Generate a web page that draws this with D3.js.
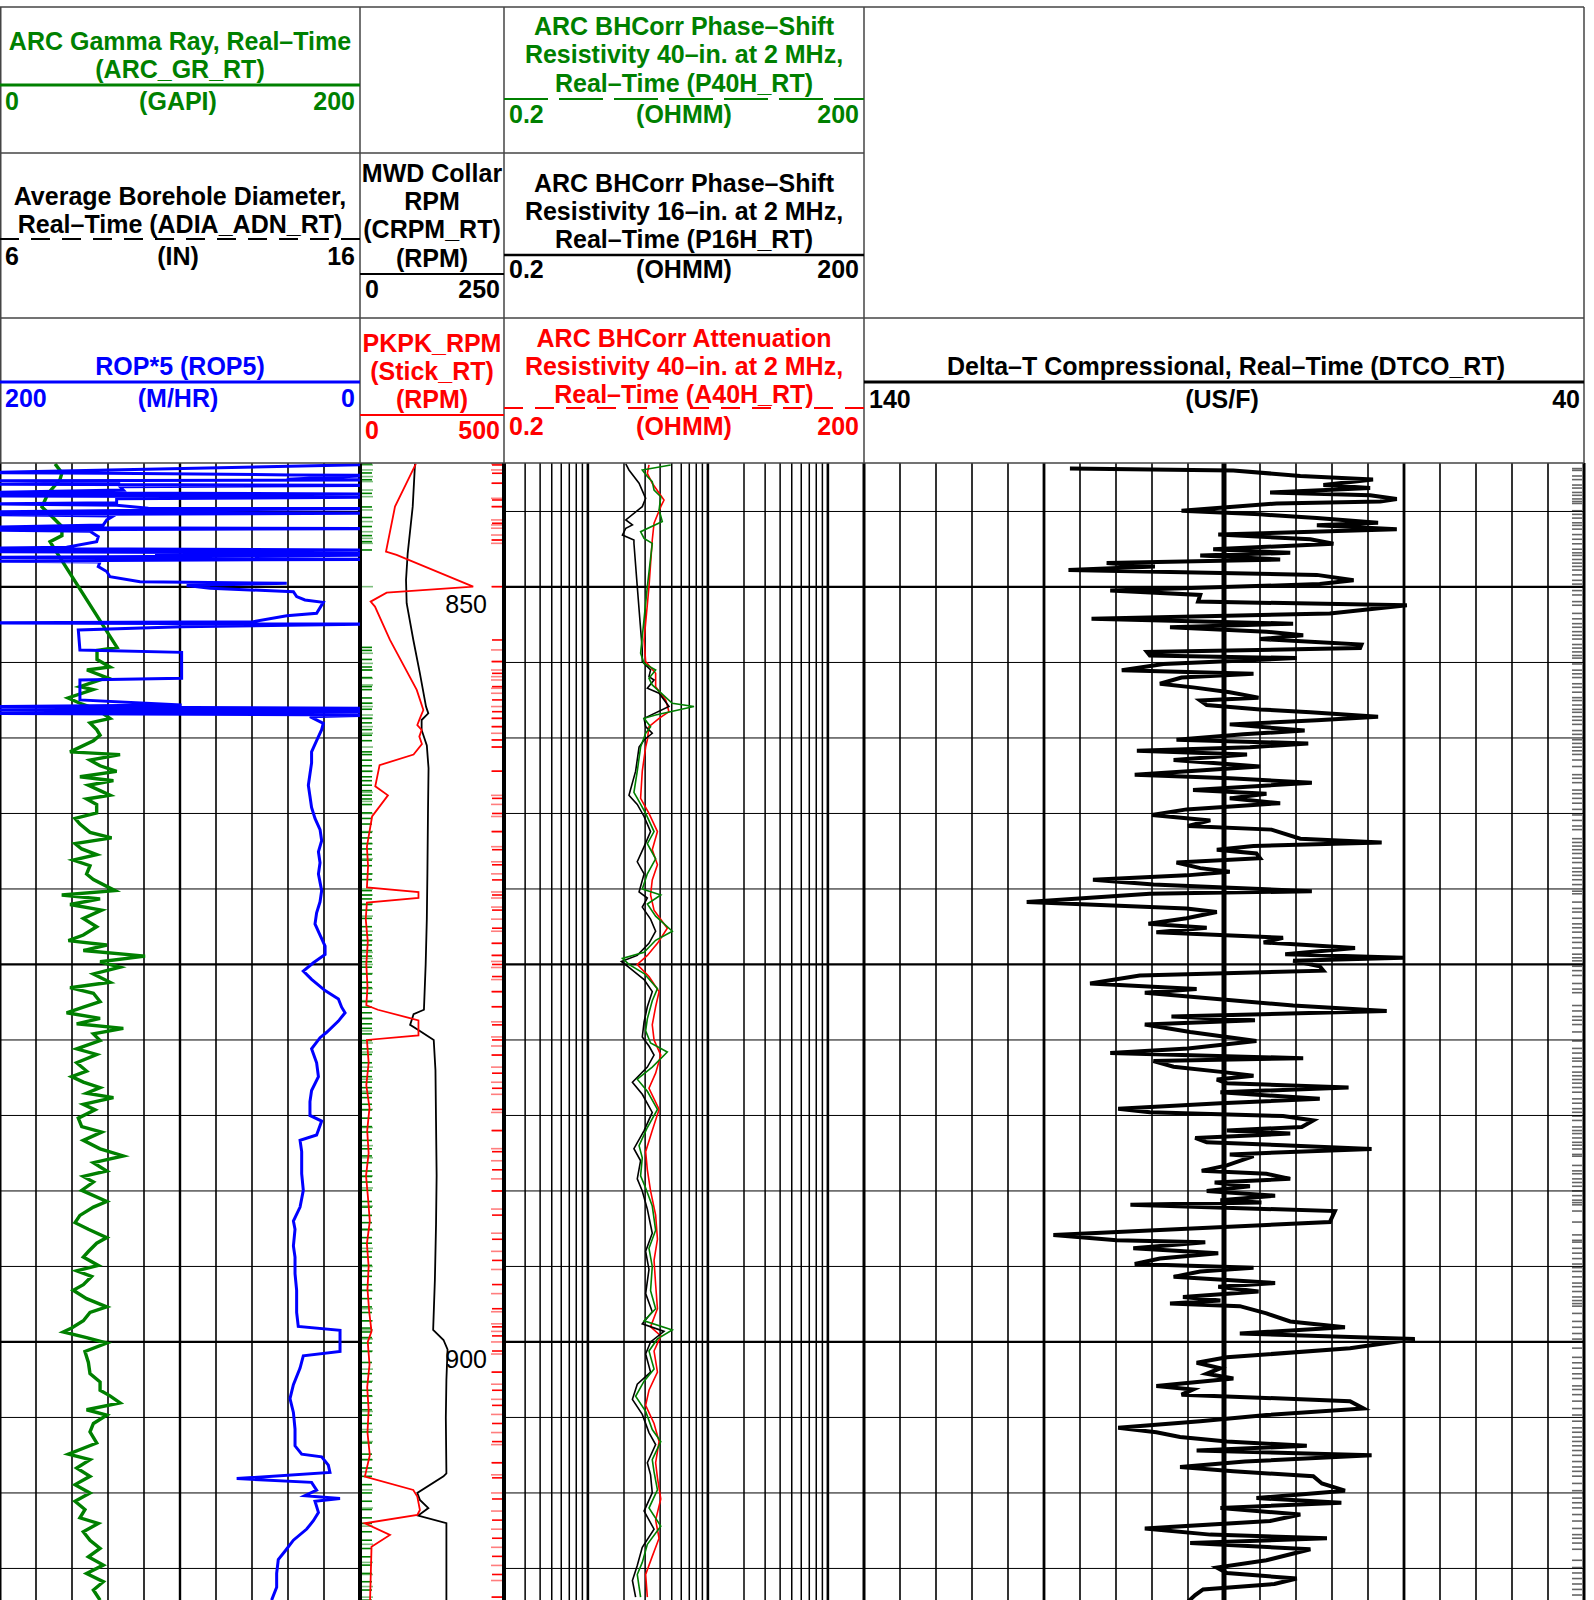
<!DOCTYPE html>
<html>
<head>
<meta charset="utf-8">
<script src="https://cdn.jsdelivr.net/npm/d3@7"></script>
<style>
  body { margin: 0; background: #fff; }
  svg text { font-family: "Liberation Sans", Arial, sans-serif; }
</style>
</head>
<body>
<svg id="log" width="1594" height="1600"></svg>
<script>
'use strict';

// ---- data: [depth, value] pairs ----
var GR = [[841.85,30.6],[842.45,34.4],[842.9,33.3],[843.8,26.7],[844.7,23.3],[845.4,29.4],[846.0,34.4],[846.6,34.4],[847.0,27.8],[847.55,30.6],
  [854.0,65.0],[854.2,53.9],[854.8,53.9],[855.3,61.1],[855.5,48.3],[856.0,59.4],[856.6,44.4],[856.8,51.7],[857.35,37.8],[857.7,44.4],[858.1,53.9],[858.7,61.1],[859.0,50.0],
  [859.45,53.7],[859.82,55.6],[860.18,51.9],[860.92,38.9],[861.10,66.7],[861.47,50.0],[861.84,55.6],[862.21,64.8],[862.57,44.4],[862.83,63.0],[863.13,49.1],[863.49,55.6],[863.79,61.1],[864.04,48.1],[864.41,53.7],[864.96,53.7],
  [865.33,41.7],[865.70,44.4],[866.25,50.0],[866.62,62.0],[866.99,41.7],[867.35,45.4],[867.72,53.7],[868.09,40.7],[868.46,50.0],[869.01,48.1],[869.38,51.9],[870.11,63.9],[870.40,34.3],[870.66,55.6],[871.03,38.9],[871.40,56.5],
  [871.95,46.3],[872.50,53.7],[873.05,46.3],[873.42,38.0],[873.71,59.3],[874.08,46.3],[874.45,80.6],[874.82,55.6],[875.18,66.7],[875.63,51.9],[876.18,61.1],[876.54,38.9],[876.91,51.9],[877.46,55.6],[877.83,46.3],[878.20,37.0],
  [878.57,55.6],[878.93,42.6],[879.23,68.5],[879.60,51.9],[880.04,55.6],[880.59,42.6],[880.96,53.7],[881.51,42.6],[882.06,48.1],[882.43,39.8],[882.79,46.3],[883.16,55.6],[883.53,48.1],[883.82,63.0],[884.26,46.3],[884.63,52.8],
  [885.18,43.5],[885.74,45.4],[886.10,56.5],[886.65,46.3],[887.21,55.6],[887.68,68.5],[888.13,51.9],[888.68,59.3],[889.04,46.3],[889.41,51.9],[889.96,45.4],[890.70,59.3],[891.07,51.9],[891.62,44.4],[892.10,41.7],[892.54,49.1],
  [893.09,59.3],[893.46,53.7],[894.01,49.1],[894.38,46.3],[894.93,54.6],[895.29,42.6],[895.66,50.9],[896.21,46.3],[896.58,40.7],[897.13,48.1],[897.68,59.3],[898.05,50.0],[898.60,46.3],[899.08,39.8],[899.34,35.2],[899.71,48.1],
  [900.07,59.3],[900.63,47.2],[901.36,49.1],[902.10,50.0],[902.65,55.6],[903.20,55.6],[903.57,61.1],[904.04,66.7],[904.49,48.1],[904.85,59.3],[905.40,51.9],[905.96,50.0],[906.69,53.7],[907.43,38.0],[907.79,50.0],[908.35,42.6],
  [908.90,50.0],[909.45,41.7],[910.00,50.0],[910.55,41.7],[911.10,47.2],[911.65,44.4],[912.02,54.6],[912.57,46.3],[913.13,50.0],[913.68,55.6],[914.23,49.1],[914.78,57.4],[915.33,48.1],[915.88,57.4],[916.43,51.9],[917.10,55.6]];

var ROP5 = [[841.88,-10],[842.43,210],[842.47,140.7],[842.58,38],[842.60,-10],[842.87,40.7],[842.91,-10],[842.96,210],[843.05,138.9],[843.13,133.3],[843.20,210],[843.27,-10],[843.36,133.3],[843.58,131.5],
  [843.75,210],[843.84,-10],[843.97,210],[844.06,-10],[844.15,135.2],[844.42,135.2],[844.50,210],[844.59,135.2],[844.79,117.6],[844.81,-10],[844.94,131.5],[845.03,210],[845.12,-10],[845.21,210],[845.30,137],
  [845.56,140.7],[845.89,142.6],[846.05,210],[846.14,-10],[846.23,210],[846.31,150],[846.67,145.4],[847.00,146.3],[847.37,163],[847.44,210],[847.55,-10],[847.66,210],[847.77,-10],[847.84,113.9],[847.90,-10],
  [848.04,210],[848.17,-10],[848.28,210],[848.34,144.4],[848.65,145.4],[848.98,140.7],[849.32,138.9],[849.65,122.2],[849.76,40.7],[849.91,96.3],[850.09,83.3],[850.31,37],[850.64,35.2],[850.86,30.6],[851.02,20.4],
  [851.74,24.1],[851.90,40.7],[852.30,59.3],[852.38,210],[852.45,-10],[852.63,99.1],[852.85,156.5],[854.17,155.6],[854.33,99.1],[856.05,99.1],[856.16,155.6],[857.48,155.6],[857.81,99.1],[857.92,210],[858.04,-10],
  [858.15,210],[858.26,-10],[858.37,210],[858.48,-10],[858.59,27.8],[859.03,20.4],
  [859.45,21.3],[860.18,24.1],[860.92,26.9],[861.65,26.9],[862.39,27.8],[863.13,28.7],[863.86,27.8],[864.60,26.9],[865.33,25.0],[866.07,22.2],[866.80,21.3],[867.54,23.1],[868.27,22.2],[869.01,23.1],[870.11,21.3],
  [870.85,22.2],[871.58,24.1],[872.32,25.0],[873.05,22.2],[873.79,19.4],[874.34,19.4],[874.89,25.9],[875.44,31.5],[875.99,26.9],[876.73,19.4],[877.28,12.0],[877.83,10.2],[878.20,8.3],[878.75,12.0],[879.49,18.5],
  [879.85,22.2],[880.59,26.9],[881.51,24.1],[882.43,23.1],[883.35,26.9],[884.08,27.8],[885.00,27.8],[885.37,21.3],[886.29,24.1],[886.65,33.3],[887.39,32.4],[888.86,32.4],[889.96,31.5],[891.07,33.3],[891.99,37.0],
  [892.54,36.1],[893.64,37.0],[894.38,36.1],[895.48,36.1],[896.58,35.2],[898.05,35.2],[898.97,34.3],[899.23,11.1],[900.63,11.1],[900.92,31.5],[901.73,33.3],[902.83,37.0],[903.75,38.9],[904.67,37.0],[905.77,36.1],
  [906.88,36.1],[907.43,32.4],[907.61,21.3],[908.16,17.6],[908.64,16.7],[909.05,68.5],[909.3,26.9],[909.82,24.1],[910.18,30.6],[910.37,11.1],[910.55,25.0],[911.29,23.1],[911.84,25.9],[912.39,29.6],[913.13,37.0],
  [913.86,41.7],[914.41,45.4],[915.33,46.3],[916.25,46.3],[917.10,49.1]];

var CRPM = [[841.85,95.5],[844.68,91.5],[847.77,82.8],[849.54,79.9],[851.08,81.0],[853.51,92.6],[855.72,104.0],[857.92,114.6],[858.37,118.6],[858.81,107.0],[859.47,107.0],[860.5,116],[862.0,119],[865.0,118],
  [869.0,117],[872.0,116],[875.0,114],[878.0,111],[878.3,93],[879.0,87],[879.35,102],[880.0,128],[882.0,131],[885.4,132],[889.0,133],[892.2,132],[895.9,130],[899.2,127],[899.87,145],[900.5,152],[902.5,150],
  [905.0,149],[908.7,150],[908.9,145],[910.0,99.5],[910.46,104],[911.0,118.7],[911.5,101],[912.0,150],[917.1,150]];

var STICK = [[841.85,194],[844.68,121.5],[847.66,90.3],[847.88,127],[849.98,393],[850.38,92.6],[850.97,37],[851.30,52],[853.51,104],[856.82,197],[858.15,220],[858.70,208],[859.14,199],[859.47,214],[859.91,206],
  [860.4,215],[861.1,186],[861.8,68],[863.2,53],[863.8,97],[865.2,42],[867.2,24],[868.5,28],[869.9,24],[870.2,203],[870.6,203],[870.9,24],[872.0,20],[873.5,27],[875.0,22],[876.5,26],[877.7,22],[878.0,62],
  [878.7,203],[879.7,203],[880.0,24],[881.5,30],[883.0,22],[884.5,33],[886.0,25],[887.5,30],[889.0,21],[890.5,28],[892.0,34],[893.5,24],[895.0,30],[896.5,26],[898.0,32],[899.3,40],[900.0,27],[901.5,33],
  [903.0,25],[904.5,30],[906.0,26],[907.5,34],[908.92,17],[909.8,185],[910.24,199],[911.13,208],[911.46,199],[912.01,17],[912.78,104],[913.56,40],[915.0,38],[917.09,35]];

var P40H = [[841.92,4.90],[842.25,2.84],[842.69,3.13],[843.02,3.44],[843.58,3.56],[844.02,4.05],[844.90,3.92],[845.67,4.17],[846.34,2.75],[846.78,2.94],[847.11,3.44],[849.98,3.13],[854.39,2.75],[855.06,2.94],
  [855.50,3.67],[856.05,3.23],[856.49,3.44],[857.70,5.05],[857.92,7.66],[858.48,3.67],[858.70,2.94],[859.25,3.33],[859.69,3.03],[860.6,2.75],[862.2,2.58],[863.6,2.42],[864.2,2.67],[865.0,3.03],[866.2,3.56],
  [867.0,3.13],[868.0,3.67],[869.0,3.13],[870.0,2.84],[870.4,4.05],[871.0,3.13],[871.8,3.67],[872.8,5.05],[873.4,3.67],[874.2,2.94],[874.6,1.94],[875.0,2.20],[875.6,2.94],[876.6,3.80],[877.4,3.44],[878.6,3.13],
  [879.4,3.03],[880.2,3.33],[880.8,4.59],[881.8,3.44],[882.6,2.58],[883.4,3.13],[884.6,3.80],[885.8,3.13],[887.0,2.67],[887.8,2.84],[889.0,2.75],[889.8,3.03],[891.0,3.44],[892.6,3.67],[893.8,3.23],[895.0,3.44],
  [896.6,3.33],[897.8,3.67],[898.6,2.94],[899.2,5.05],[899.8,3.80],[900.6,3.23],[901.8,3.56],[902.6,2.94],[903.6,2.50],[904.6,3.03],[905.8,3.44],[906.6,4.05],[907.8,3.44],[908.6,3.56],[909.8,3.80],[911.0,3.23],
  [912.2,4.05],[913.4,3.13],[914.6,2.84],[915.4,2.58],[916.2,2.67],[916.9,2.75]];

var P16H = [[841.85,2.07],[842.25,2.20],[843.13,2.67],[844.13,3.03],[844.68,2.84],[845.56,2.07],[845.89,2.35],[846.11,2.07],[846.56,1.94],[846.89,2.42],[847.11,2.42],[849.98,2.58],[854.17,2.84],[854.94,2.84],
  [855.50,3.33],[855.94,3.23],[856.16,3.56],[856.71,3.13],[857.04,3.92],[857.92,4.74],[858.70,2.94],[859.25,3.03],[859.69,3.44],[860.13,2.94],[860.6,2.67],[862.2,2.50],[863.8,2.20],[864.4,2.58],[865.2,2.94],
  [866.2,3.33],[867.2,2.94],[868.2,2.58],[869.0,2.94],[870.2,2.67],[870.6,3.13],[871.2,2.84],[872.0,3.33],[872.8,3.67],[873.6,3.23],[874.4,2.58],[874.8,1.90],[875.2,2.20],[876.0,2.94],[876.8,3.44],[877.8,3.13],
  [878.8,2.94],[879.8,2.84],[880.4,3.23],[881.0,3.56],[881.8,3.13],[882.8,2.35],[883.6,2.84],[884.8,3.44],[886.0,2.94],[887.2,2.42],[888.0,2.75],[889.2,2.58],[890.0,2.84],[891.2,3.13],[892.8,3.44],[894.0,3.03],
  [895.2,3.23],[896.8,3.03],[898.0,3.44],[898.8,2.84],[899.3,4.31],[900.0,3.33],[900.8,3.03],[902.0,3.33],[902.8,2.58],[903.8,2.35],[904.8,2.84],[906.0,3.23],[906.8,3.67],[908.0,3.13],[908.8,3.33],[910.0,3.44],
  [911.2,2.94],[912.4,3.56],[913.6,2.84],[914.8,2.58],[915.8,2.35],[916.9,2.50]];

var A40H = [[841.92,3.23],[842.47,3.13],[843.13,3.44],[844.24,4.31],[844.68,4.05],[845.78,3.56],[846.89,3.44],[849.98,3.23],[853.51,2.94],[854.94,3.03],[855.72,3.67],[856.60,3.67],[857.48,4.45],[858.26,4.74],
  [858.70,3.92],[859.25,3.23],[860.13,3.13],[860.6,3.03],[862.2,2.84],[864.0,2.75],[865.0,3.23],[866.2,3.80],[867.4,3.44],[868.4,3.80],[869.4,3.44],[870.4,3.33],[871.4,3.56],[872.6,4.59],[873.6,3.80],[874.4,3.13],
  [875.0,2.58],[875.8,3.23],[876.8,3.92],[877.8,3.67],[879.0,3.44],[880.0,3.56],[881.0,4.05],[882.2,3.67],[883.2,3.23],[884.6,3.92],[886.0,3.44],[887.4,3.03],[888.6,3.13],[890.0,3.33],[891.6,3.67],[893.2,3.80],
  [894.6,3.56],[896.2,3.67],[897.8,3.80],[899.0,3.33],[899.6,4.05],[900.6,3.56],[902.0,3.80],[903.2,3.23],[904.2,3.03],[905.4,3.56],[906.6,3.92],[908.0,3.67],[909.0,3.80],[910.4,4.05],[911.8,3.67],[913.0,3.92],
  [914.2,3.44],[915.4,3.03],[916.9,3.13]];

var DTCO = [[842.16,111.4],[842.28,88.7],[842.65,79.4],[842.89,69.3],[843.25,76.2],[843.45,69.7],[843.74,83.6],[843.93,69.7],[844.17,66.0],[844.34,68.3],[844.47,82.7],[844.95,95.9],[845.19,85.0],[845.44,77.1],
  [845.75,68.6],[845.92,77.1],[846.17,66.0],[846.53,90.8],[846.84,78.0],[847.14,74.8],[847.50,91.5],[847.74,80.8],[847.91,93.3],[848.18,82.2],[848.42,106.3],[848.64,99.6],[848.88,111.6],[849.20,77.1],[849.56,72.0],
  [849.81,76.7],[850.24,105.8],[850.53,93.3],[850.97,93.6],[851.21,64.6],[851.75,75.3],[852.11,108.4],[852.43,80.4],[852.67,97.5],[852.96,84.1],[853.20,79.0],[853.45,85.0],[853.81,70.9],[854.05,71.1],[854.30,100.7],
  [854.54,100.3],[854.71,79.9],[855.10,98.4],[855.51,104.2],[855.75,85.9],[856.00,95.9],[856.41,98.9],[856.65,94.3],[856.97,89.2],[857.33,85.2],[857.52,93.3],[857.82,92.4],[858.11,85.0],[858.30,78.0],[858.59,68.6],
  [858.83,77.1],[859.10,89.2],[859.51,78.8],[859.76,87.3],[860.12,96.6],[860.36,78.3],[860.61,86.4],[860.85,102.1],[861.09,86.8],[861.46,97.0],[861.89,85.0],[862.43,102.4],[862.67,89.2],[862.96,77.8],[863.45,94.3],
  [863.69,84.1],[864.00,89.2],[864.32,82.2],[864.73,95.2],[865.10,100.0],[865.46,91.9],[865.83,95.0],[866.07,83.4],[866.67,79.4],[866.92,68.1],[867.16,85.9],[867.40,91.0],[867.65,85.5],[867.96,85.0],[868.25,96.6],
  [868.62,93.3],[868.86,89.2],[869.10,95.2],[869.39,108.2],[869.71,99.8],[870.15,77.8],[870.32,100.3],[870.87,117.4],[871.29,95.2],[871.53,91.0],[871.94,95.2],[872.31,100.5],[872.57,92.4],[872.86,99.4],[873.23,81.8],
  [873.54,84.5],[873.91,71.8],[874.32,81.5],[874.56,65.1],[874.76,80.4],[875.12,76.7],[875.41,76.2],[875.73,101.7],[876.26,108.6],[876.63,93.8],[876.87,101.0],[877.72,80.4],[878.08,67.4],[878.45,97.3],[878.69,85.7],
  [878.98,101.0],[879.47,94.7],[880.07,85.5],[880.56,95.0],[880.87,105.8],[881.21,79.0],[881.40,99.8],[881.77,97.0],[882.13,90.1],[882.37,85.9],[882.62,91.0],[882.86,89.6],[883.15,72.7],[883.46,90.5],[883.90,76.7],
  [884.19,90.5],[884.55,104.7],[884.79,100.3],[885.04,81.8],[885.33,77.6],[885.76,79.2],[886.00,89.6],[886.20,80.8],[886.49,94.0],[886.78,92.4],[886.97,81.8],[887.22,69.5],[887.58,89.2],[887.70,85.9],[888.31,89.6],
  [888.67,93.1],[888.86,84.1],[889.20,80.8],[889.44,91.3],[889.69,86.4],[890.00,92.4],[890.31,82.9],[890.61,90.5],[890.77,84.8],[890.92,103.0],[891.33,74.6],[892.06,75.3],[892.91,113.7],[893.27,104.9],[893.39,92.6],
  [893.80,102.6],[894.12,90.8],[894.48,98.9],[894.84,102.4],[895.08,85.9],[895.33,93.3],[895.69,97.0],[896.10,82.9],[896.34,90.8],[896.66,85.2],[897.02,95.7],[897.26,90.5],[897.46,97.5],[897.63,87.8],[898.11,84.1],
  [898.64,80.8],[899.03,73.2],[899.44,87.8],[899.81,63.5],[900.41,72.5],[901.02,89.6],[901.38,93.8],[901.74,90.5],[902.11,92.4],[902.42,88.7],[902.91,99.4],[903.15,94.3],[903.49,95.9],[903.92,72.5],[904.41,70.6],
  [904.84,84.1],[905.25,93.3],[905.69,104.7],[905.98,99.4],[906.30,96.1],[906.59,89.6],[906.88,78.5],[907.19,93.8],[907.51,69.5],[907.92,87.1],[908.28,96.1],[908.57,88.7],[908.89,77.6],[909.37,76.4],[909.85,73.2],
  [910.34,85.5],[910.65,73.7],[910.99,90.5],[911.43,79.4],[911.86,83.6],[912.35,101.0],[912.76,91.9],[913.00,75.7],[913.32,94.7],[913.73,78.0],[914.46,84.1],[914.94,91.0],[915.30,89.6],[915.67,79.9],[916.03,83.0],
  [916.39,92.9],[916.76,94.0],[917.2,95.0]];

var depthLabels = [850, 900];
var gridDepths = d3.range(845, 917, 5);

// ---- layout ----
var svg = d3.select('#log');
var TOP = 463, BOTTOM = 1600;
var y = d3.scaleLinear().domain([841.79, 917.09]).range([TOP, BOTTOM]);

var xGR = d3.scaleLinear().domain([0, 200]).range([0, 360]);
var xROP = d3.scaleLinear().domain([200, 0]).range([0, 360]);
var xCRPM = d3.scaleLinear().domain([0, 250]).range([360, 504]);
var xStick = d3.scaleLinear().domain([0, 500]).range([360, 504]);
var xRes = d3.scaleLog().domain([0.2, 200]).range([504, 864]);
var xDT = d3.scaleLinear().domain([140, 40]).range([864, 1584]);

var GREEN = '#008000', BLUE = '#0000ff', RED = '#ff0000';

function line(x1, y1, x2, y2, w, color, dash) {
    var l = svg.append('line')
        .attr('x1', x1).attr('y1', y1).attr('x2', x2).attr('y2', y2)
        .attr('stroke', color || '#000').attr('stroke-width', w);
    if (dash) l.attr('stroke-dasharray', dash);
    return l;
}

function text(x, yy, s, color, anchor, weight) {
    svg.append('text')
        .attr('x', x).attr('y', yy)
        .attr('fill', color || '#000')
        .attr('text-anchor', anchor || 'middle')
        .attr('font-weight', weight || 'bold')
        .attr('font-size', 25)
        .text(s);
}

// clip regions per track
var defs = svg.append('defs');
[['t1', 0, 360], ['t2', 360, 504], ['t3', 504, 864], ['t4', 864, 1584]].forEach(function (t) {
    defs.append('clipPath').attr('id', 'clip-' + t[0])
        .append('rect').attr('x', t[1]).attr('y', TOP).attr('width', t[2] - t[1]).attr('height', BOTTOM - TOP);
});

// ---- grid ----
var grid = svg.append('g');
gridDepths.forEach(function (d) {
    var w = d % 25 === 0 ? 2.2 : 1;
    var yy = y(d);
    [[0, 360], [504, 864], [864, 1584]].forEach(function (r) {
        grid.append('line').attr('x1', r[0]).attr('x2', r[1]).attr('y1', yy).attr('y2', yy)
            .attr('stroke', '#000').attr('stroke-width', w);
    });
});

d3.range(0, 201, 20).forEach(function (v) {
    var w = v === 0 ? 3 : (v === 100 ? 2.4 : 1.6);
    if (v === 200) return;
    grid.append('line').attr('x1', xGR(v)).attr('x2', xGR(v)).attr('y1', TOP).attr('y2', BOTTOM)
        .attr('stroke', '#000').attr('stroke-width', w);
});

xRes.ticks().forEach(function (v) {
    if (v <= 0.2 || v >= 200) return;
    var major = Math.abs(Math.log10(v) - Math.round(Math.log10(v))) < 1e-6;
    grid.append('line').attr('x1', xRes(v)).attr('x2', xRes(v)).attr('y1', TOP).attr('y2', BOTTOM)
        .attr('stroke', '#000').attr('stroke-width', major ? 2.6 : 1.5);
});

d3.range(135, 40, -5).forEach(function (v) {
    var w = v === 90 ? 5 : ((v - 40) % 25 === 0 ? 2.8 : 1.6);
    grid.append('line').attr('x1', xDT(v)).attr('x2', xDT(v)).attr('y1', TOP).attr('y2', BOTTOM)
        .attr('stroke', '#000').attr('stroke-width', w);
});

// track borders in data area
line(xCRPM(0), TOP, xCRPM(0), BOTTOM, 4);
line(xCRPM(250), TOP, xCRPM(250), BOTTOM, 4);
line(xDT(140), TOP, xDT(140), BOTTOM, 3);
line(xDT(40), TOP, xDT(40), BOTTOM, 3);

// sample flags: one tick per sample of each curve, in its curve colour
var ticks = svg.append('g');
function flags(data, x1, x2, color, opacity) {
    data.forEach(function (p) {
        ticks.append('line').attr('x1', x1).attr('x2', x2).attr('y1', y(p[0])).attr('y2', y(p[0]))
            .attr('stroke', color).attr('stroke-width', 1.6).attr('opacity', opacity);
    });
}
flags(GR, 362, 372, GREEN, 1);
flags(P40H, 362, 373, GREEN, 0.5);
flags(A40H, 492, 502, RED, 1);
flags(P16H, 491, 502, RED, 0.5);
flags(DTCO, 1572, 1582, '#000', 0.6);

// depth labels
depthLabels.forEach(function (d) {
    text(487, y(d) + 26, String(d), '#000', 'end', 'normal');
});

// ---- curves ----
function curve(data, xs, clip, color, w) {
    svg.append('path')
        .datum(data)
        .attr('clip-path', 'url(#clip-' + clip + ')')
        .attr('fill', 'none')
        .attr('stroke', color)
        .attr('stroke-width', w)
        .attr('stroke-linejoin', 'miter')
        .attr('d', d3.line().x(function (d) { return xs(d[1]); }).y(function (d) { return y(d[0]); }));
}

curve(GR, xGR, 't1', GREEN, 3.4);
curve(ROP5, xROP, 't1', BLUE, 3);
curve(CRPM, xCRPM, 't2', '#000', 1.8);
curve(STICK, xStick, 't2', RED, 1.8);
curve(A40H, xRes, 't3', RED, 1.6);
curve(P16H, xRes, 't3', '#000', 1.6);
curve(P40H, xRes, 't3', GREEN, 1.6);
curve(DTCO, xDT, 't4', '#000', 4);

// ---- header ----
var FR = '#444';
line(0, 7, 1584, 7, 1.5, FR);
line(0, 153, 864, 153, 1.5, FR);
line(0, 318, 1584, 318, 1.5, FR);
line(0, TOP, 1584, TOP, 1.5, FR);
[0.75, 360, 504, 864, 1584].forEach(function (x) { line(x, 7, x, TOP, 1.5, FR); });

// track 1
text(180, 50, 'ARC Gamma Ray, Real\u2013Time', GREEN);
text(180, 78, '(ARC_GR_RT)', GREEN);
line(0, 85, 360, 85, 3, GREEN);
text(5, 110, '0', GREEN, 'start'); text(178, 110, '(GAPI)', GREEN); text(355, 110, '200', GREEN, 'end');

text(180, 205, 'Average Borehole Diameter,', '#000');
line(0, 239, 360, 239, 2, '#000', '19,12');
text(180, 233, 'Real\u2013Time (ADIA_ADN_RT)', '#000');
text(5, 265, '6', '#000', 'start'); text(178, 265, '(IN)', '#000'); text(355, 265, '16', '#000', 'end');

text(180, 375, 'ROP*5 (ROP5)', BLUE);
line(0, 382, 360, 382, 3, BLUE);
text(5, 407, '200', BLUE, 'start'); text(178, 407, '(M/HR)', BLUE); text(355, 407, '0', BLUE, 'end');

// track 2
text(432, 182, 'MWD Collar', '#000');
text(432, 210, 'RPM', '#000');
text(432, 238, '(CRPM_RT)', '#000');
text(432, 267, '(RPM)', '#000');
line(360, 274, 504, 274, 2.2, '#000');
text(365, 298, '0', '#000', 'start'); text(500, 298, '250', '#000', 'end');

text(432, 352, 'PKPK_RPM', RED);
text(432, 380, '(Stick_RT)', RED);
text(432, 408, '(RPM)', RED);
line(360, 415, 504, 415, 2.2, RED);
text(365, 439, '0', RED, 'start'); text(500, 439, '500', RED, 'end');

// track 3
line(504, 99, 864, 99, 2, GREEN, '44,11');
text(684, 35, 'ARC BHCorr Phase\u2013Shift', GREEN);
text(684, 63, 'Resistivity 40\u2013in. at 2 MHz,', GREEN);
text(684, 92, 'Real\u2013Time (P40H_RT)', GREEN);
text(509, 123, '0.2', GREEN, 'start'); text(684, 123, '(OHMM)', GREEN); text(859, 123, '200', GREEN, 'end');

text(684, 192, 'ARC BHCorr Phase\u2013Shift', '#000');
text(684, 220, 'Resistivity 16\u2013in. at 2 MHz,', '#000');
text(684, 248, 'Real\u2013Time (P16H_RT)', '#000');
line(504, 255, 864, 255, 2.4, '#000');
text(509, 278, '0.2', '#000', 'start'); text(684, 278, '(OHMM)', '#000'); text(859, 278, '200', '#000', 'end');

line(504, 408, 864, 408, 2, RED, '19,12');
text(684, 347, 'ARC BHCorr Attenuation', RED);
text(684, 375, 'Resistivity 40\u2013in. at 2 MHz,', RED);
text(684, 403, 'Real\u2013Time (A40H_RT)', RED);
text(509, 435, '0.2', RED, 'start'); text(684, 435, '(OHMM)', RED); text(859, 435, '200', RED, 'end');

// track 4
text(1226, 375, 'Delta\u2013T Compressional, Real\u2013Time (DTCO_RT)', '#000');
line(864, 382, 1584, 382, 3, '#000');
text(869, 408, '140', '#000', 'start'); text(1222, 408, '(US/F)', '#000'); text(1580, 408, '40', '#000', 'end');
</script>
</body>
</html>
